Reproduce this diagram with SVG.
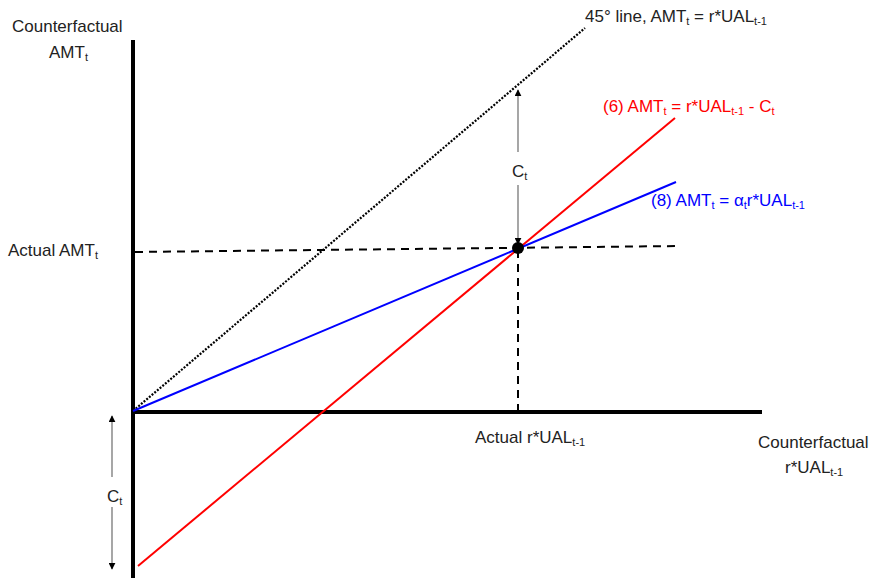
<svg xmlns="http://www.w3.org/2000/svg" width="872" height="578" viewBox="0 0 872 578">
<style>
text{font-family:"Liberation Sans",Arial,sans-serif;font-size:17px;fill:#222}
.sub{font-size:11px}
.axis{stroke:#000;stroke-width:4;fill:none}
.dash{stroke:#000;stroke-width:2;stroke-dasharray:8,6;fill:none}
.dot{stroke:#000;stroke-width:2.2;stroke-dasharray:2,1.5;fill:none}
.dim{stroke:#777;stroke-width:1.3;fill:none}
</style>
<defs>
<marker id="ah" viewBox="0 0 10 10" refX="9" refY="5" markerWidth="7" markerHeight="7" orient="auto-start-reverse" markerUnits="userSpaceOnUse">
<path d="M0,0 L10,5 L0,10 z" fill="#000"/>
</marker>
</defs>
<rect width="872" height="578" fill="#fff"/>
<g id="connectors">
<line class="axis" x1="133" y1="40" x2="133" y2="578"/>
<line class="axis" x1="131" y1="412" x2="762" y2="412"/>
<line class="dot" x1="133" y1="411" x2="585" y2="28"/>
<line class="dash" x1="135" y1="252" x2="680" y2="246"/>
<line class="dash" x1="518" y1="250" x2="518" y2="412"/>
<line x1="138" y1="566" x2="675" y2="118" stroke="#f00" stroke-width="2"/>
<line x1="133" y1="411" x2="676" y2="182" stroke="#00f" stroke-width="2"/>
<line class="dim" x1="518" y1="152" x2="518" y2="90" marker-end="url(#ah)"/>
<line class="dim" x1="518" y1="185" x2="518" y2="244" marker-end="url(#ah)"/>
<line class="dim" x1="112" y1="477" x2="112" y2="416" marker-end="url(#ah)"/>
<line class="dim" x1="112" y1="507" x2="112" y2="569" marker-end="url(#ah)"/>
</g>
<g id="point"><circle cx="518" cy="248" r="6" fill="#000"/></g>
<g id="label-y-axis">
<text x="12" y="32">Counterfactual</text>
<text x="49" y="58">AMT<tspan class="sub" dy="3">t</tspan></text>
</g>
<g id="label-45">
<text x="585" y="22">45° line, AMT<tspan class="sub" dy="3">t</tspan><tspan dy="-3"> = r*UAL</tspan><tspan class="sub" dy="3">t-1</tspan></text>
</g>
<g id="label-6">
<text x="603" y="112" style="fill:#f00">(6) AMT<tspan class="sub" dy="3">t</tspan><tspan dy="-3"> = r*UAL</tspan><tspan class="sub" dy="3">t-1</tspan><tspan dy="-3"> - C</tspan><tspan class="sub" dy="3">t</tspan></text>
</g>
<g id="label-8">
<text x="651" y="206" style="fill:#00f">(8) AMT<tspan class="sub" dy="3">t</tspan><tspan dy="-3"> = α</tspan><tspan class="sub" dy="3">t</tspan><tspan dy="-3">r*UAL</tspan><tspan class="sub" dy="3">t-1</tspan></text>
</g>
<g id="label-ct-upper"><text x="512" y="177">C<tspan class="sub" dy="3">t</tspan></text></g>
<g id="label-ct-lower"><text x="107" y="502">C<tspan class="sub" dy="3">t</tspan></text></g>
<g id="label-actual-amt"><text x="8" y="256">Actual AMT<tspan class="sub" dy="3">t</tspan></text></g>
<g id="label-actual-ual"><text x="475" y="443">Actual r*UAL<tspan class="sub" dy="3">t-1</tspan></text></g>
<g id="label-x-axis">
<text x="758" y="448">Counterfactual</text>
<text x="785" y="473">r*UAL<tspan class="sub" dy="3">t-1</tspan></text>
</g>
</svg>
